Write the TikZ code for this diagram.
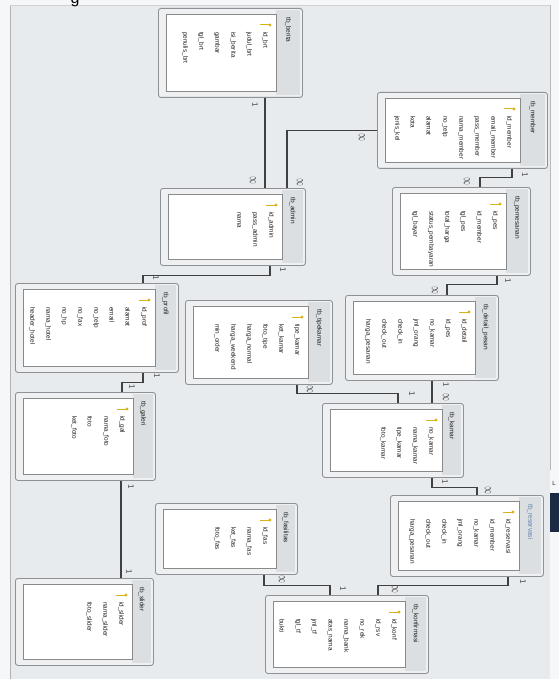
\documentclass[tikz,border=0pt]{standalone}
\usepackage{fontspec}
\setmainfont{Liberation Sans}
\usetikzlibrary{calc}
\definecolor{canvas}{HTML}{E8EBEE}
\definecolor{paper}{HTML}{F6F7F8}
\definecolor{outerbg}{HTML}{EEF0F2}
\definecolor{framec}{HTML}{8E9296}
\definecolor{hdrc}{HTML}{DCDFE2}
\definecolor{innerc}{HTML}{8A8A8A}
\definecolor{txt}{HTML}{1E1E1E}
\definecolor{linec}{HTML}{404040}
\definecolor{keyc}{HTML}{D9B21C}
\definecolor{selc}{HTML}{5C7EA8}
\definecolor{navy}{HTML}{1C2A44}
\tikzset{
 tblouter/.style={draw=framec, fill=outerbg, rounded corners=2.5pt, line width=0.9pt, inner sep=0pt},
 hdrfill/.style={fill=hdrc},
 innerwhite/.style={draw=innerc, fill=white, line width=0.8pt},
 hdrtext/.style={rotate=-90, anchor=west, font=\fontsize{6.5}{7}\selectfont, text=txt, inner sep=0pt},
 fieldtext/.style={rotate=-90, anchor=west, font=\fontsize{6.4}{7}\selectfont, text=txt, inner sep=0pt},
 rel/.style={draw=linec, line width=1.1pt},
 lbl/.style={font=\fontsize{8}{8}\selectfont, text=linec, inner sep=0pt, rotate=-90},
 lblinf/.style={font=\fontsize{7}{7}\selectfont, text=linec, inner sep=0pt},
}
\newcommand\infl{\rotatebox{-90}{\scalebox{1}[2]{$\infty$}}}
% #1 name, #2 x1, #3 y1, #4 x2, #5 y2, #6 header width, #7 title, #8 fields
\newcommand\erbox[8]{%
 \pgfmathsetmacro\ebw{#4-#2}%
 \pgfmathsetmacro\ebh{#5-#3}%
 \pgfmathsetmacro\ebhx{#4-#6}%
 \node[tblouter, minimum width=\ebw pt, minimum height=\ebh pt, anchor=north west] (#1) at (#2,#3) {};
 \fill[hdrfill] (\ebhx,#3+2) rectangle (#4-2,#5-2);
 \draw[innerwhite] (#2+8,#3+6) rectangle (\ebhx,#5-6);
 \node[hdrtext] (#1-title) at ({\ebhx+#6/2-1},#3+9) {#7};
 \draw[keyc, line width=1pt] ({\ebhx-16},#3+17) -- ({\ebhx-7},#3+17);
 \fill[keyc] ({\ebhx-6},#3+17) circle (1.6);
 \foreach \f [count=\i] in {#8} {\node[fieldtext] (#1-f\i) at ({\ebhx-11-(\i-1)*16},#3+24) {\f};}
}
\begin{document}
\begin{tikzpicture}[x=1pt,y=-1pt]
\useasboundingbox (0,0) rectangle (559,679);
\fill[paper] (0,0) rectangle (559,679);
\fill[canvas] (10,5) rectangle (550,679);
\draw[gray!60] (10,5) -- (10,679);
\draw[gray!35] (10,5) -- (550,5);
\draw[gray!55] (550,5) -- (550,470);
\fill[navy] (550,493) rectangle (559,532);
\node[font=\fontsize{6}{6}\selectfont, text=txt, inner sep=0pt] (lmark) at (554,483) {L};
\node[font=\fontsize{16}{16}\selectfont, anchor=base, inner sep=0pt] (topg) at (75,4) {g};

\erbox{berita}{158}{8}{302}{97}{26}{tb\_berita}{id\_brt, judul\_brt, isi\_berita, gambar, tgl\_brt, penulis\_brt}
\erbox{member}{377}{92}{547}{168}{27}{tb\_member}{id\_member, email\_member, pass\_member, nama\_member, no\_telp, alamat, kota, jenis\_kel}
\erbox{admin}{160}{188}{305}{265}{23}{tb\_admin}{id\_admin, pass\_admin, nama}
\erbox{pemesanan}{392}{187}{530}{275}{24}{tb\_pemesanan}{id\_pes, id\_member, tgl\_pes, total\_harga, status\_pembayaran, tgl\_bayar}
\erbox{profil}{15}{283}{178}{372}{23}{tb\_profil}{id\_prof, alamat, email, no\_telp, no\_fax, no\_hp, nama\_hotel, header\_hotel}
\erbox{tipekamar}{185}{300}{332}{384}{24}{tb\_tipekamar}{tipe\_kamar, ket\_kamar, foto\_tipe, harga\_normal, harga\_weekend, min\_order}
\erbox{detail}{345}{295}{498}{380}{23}{tb\_detail\_pesan}{id\_detail, id\_pes, no\_kamar, jml\_orang, check\_in, check\_out, harga\_pesanan}
\erbox{galeri}{15}{392}{155}{480}{22}{tb\_galeri}{id\_gal, nama\_foto, foto, ket\_foto}
\erbox{kamar}{322}{403}{463}{477}{21}{tb\_kamar}{no\_kamar, nama\_kamar, tipe\_kamar, foto\_kamar}
\erbox{reservasi}{390}{495}{543}{576}{24}{\textcolor{selc}{tb\_reservasi}}{id\_reservasi, id\_member, no\_kamar, jml\_orang, check\_in, check\_out, harga\_pesanan}
\erbox{fasilitas}{155}{503}{297}{574}{21}{tb\_fasilitas}{id\_fas, nama\_fas, ket\_fas, foto\_fas}
\erbox{slider}{15}{578}{153}{665}{21}{tb\_slider}{id\_slider, nama\_slider, foto\_slider}
\erbox{konfirmasi}{265}{595}{428}{673}{23}{tb\_konfirmasi}{id\_konf, id\_rsv, no\_rek, nama\_bank, atas\_nama, jml\_tf, tgl\_tf, bukti}

% connectors
\draw[rel] ([xshift=107pt]berita.south west) coordinate (c1) -- (c1 |- admin.north);
\node[lbl] (l1) at (255,105) {1};
\node[lblinf] (l2) at (253,180) {\infl};

\draw[rel] (member.west) -- ++(-90,0) coordinate (c2) -- (c2 |- admin.north);
\node[lblinf] (l3) at (362,137) {\infl};
\node[lblinf] (l4) at (300,182) {\infl};

\draw[rel] ([xshift=135pt]member.south west) -- ++(0,9) -| ([xshift=88pt]pemesanan.north west);
\node[lbl] (l5) at (525,175) {1};
\node[lblinf] (l6) at (467,181) {\infl};

\draw[rel] ([xshift=110pt]admin.south west) -- ++(0,10) -| ([xshift=128pt]profil.north west);
\node[lbl] (l7) at (283,270) {1};
\node[lbl] (l8) at (156,278) {1};

\draw[rel] ([xshift=128pt]profil.south west) -- ++(0,10) -| ([xshift=107pt]galeri.north west);
\node[lbl] (l9) at (157,376) {1};
\node[lbl] (l10) at (132,387) {1};

\draw[rel] ([xshift=106pt]galeri.south west) coordinate (c6) -- (c6 |- slider.north);
\node[lbl] (l11) at (131,487) {1};
\node[lbl] (l12) at (129,572) {1};

\draw[rel] ([xshift=105pt]pemesanan.south west) -- ++(0,9) -| ([xshift=102pt]detail.north west);
\node[lbl] (l13) at (508,281) {1};
\node[lblinf] (l14) at (435,290) {\infl};

\draw[rel] ([xshift=87pt]detail.south west) coordinate (c8) -- (c8 |- kamar.north);
\node[lbl] (l15) at (446,385) {1};
\node[lblinf] (l16) at (446,397) {\infl};

\draw[rel] ([xshift=112pt]tipekamar.south west) -- ++(0,9) -| ([xshift=76pt]kamar.north west);
\node[lblinf] (l17) at (310,389) {\infl};
\node[lbl] (l18) at (412,394) {1};

\draw[rel] ([xshift=110pt]kamar.south west) -- ++(0,10) -| ([xshift=87pt]reservasi.north west);
\node[lbl] (l19) at (445,482) {1};
\node[lblinf] (l20) at (488,490) {\infl};

\draw[rel] ([xshift=109pt]fasilitas.south west) -- ++(0,11) -| ([xshift=65pt]konfirmasi.north west);
\node[lblinf] (l21) at (282,579) {\infl};
\node[lbl] (l22) at (343,589) {1};

\draw[rel] ([xshift=118pt]reservasi.south west) -- ++(0,9) -| ([xshift=113pt]konfirmasi.north west);
\node[lbl] (l23) at (523,582) {1};
\node[lblinf] (l24) at (395,589) {\infl};
\end{tikzpicture}
\end{document}
